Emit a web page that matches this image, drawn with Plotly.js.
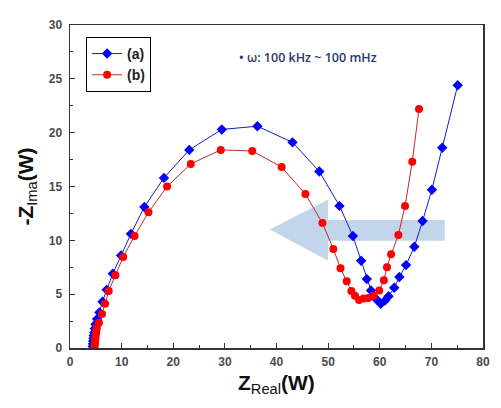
<!DOCTYPE html>
<html>
<head>
<meta charset="utf-8">
<script src="https://cdn.plot.ly/plotly-3.0.1.min.js"></script>
<style>html,body{margin:0;padding:0;background:#fff;}#chart{width:501px;height:408px;}</style>
</head>
<body>
<div id="chart"></div>
<script>
// Series (a): Z_real and -Z_imag (Ohm)
const zRealA = [4.4, 4.45, 4.5, 4.55, 4.6, 4.7, 4.8, 4.95, 5.25, 5.7, 6.3, 7.1, 8.3, 9.9, 11.8, 14.4, 18.2, 23.1, 29.4, 36.3, 43.1, 48.3, 52.2, 54.8, 56.4, 57.5, 58.3, 59.4, 60.2, 61.0, 61.7, 62.8, 63.8, 65.1, 66.7, 68.3, 70.1, 72.1, 75.1];
const zImagA = [0.15, 0.4, 0.65, 0.9, 1.15, 1.45, 1.8, 2.2, 2.7, 3.3, 4.3, 5.4, 6.9, 8.6, 10.6, 13.1, 15.8, 18.4, 20.3, 20.6, 19.1, 16.4, 13.2, 10.4, 8.1, 6.4, 5.35, 4.5, 4.1, 4.4, 4.8, 5.6, 6.6, 7.7, 9.4, 11.8, 14.7, 18.6, 24.4];
// Series (b)
const zRealB = [4.75, 4.8, 4.85, 4.9, 4.95, 5.0, 5.1, 5.2, 5.6, 6.2, 6.8, 7.5, 8.8, 10.3, 12.5, 15.2, 18.8, 23.4, 29.2, 35.3, 41.0, 45.6, 48.9, 51.0, 52.4, 53.6, 54.5, 55.2, 56.0, 56.9, 57.8, 58.8, 59.9, 60.8, 61.4, 62.2, 63.6, 64.9, 66.3, 67.6];
const zImagB = [0.1, 0.3, 0.5, 0.75, 1.0, 1.25, 1.5, 1.85, 2.35, 3.15, 4.1, 5.3, 6.75, 8.45, 10.4, 12.6, 15.0, 17.1, 18.4, 18.3, 16.8, 14.3, 11.6, 9.2, 7.4, 6.2, 5.3, 4.85, 4.45, 4.6, 4.65, 4.85, 5.35, 6.3, 7.5, 8.7, 10.5, 13.2, 17.3, 22.2];
const seriesNames = ['(a)', '(b)'];
const xTicks = [0, 10, 20, 30, 40, 50, 60, 70, 80];
const yTicks = [0, 5, 10, 15, 20, 25, 30];

const traces = [
  {x: zRealA, y: zImagA, name: seriesNames[0], type: 'scatter', mode: 'lines+markers',
   line: {color: '#1a1acc', width: 1}, marker: {symbol: 'diamond', size: 8, color: '#0000ff'}},
  {x: zRealB, y: zImagB, name: seriesNames[1], type: 'scatter', mode: 'lines+markers',
   line: {color: '#c0282c', width: 1}, marker: {symbol: 'circle', size: 8, color: '#ff0000'}}
];

const tickFont = {family: 'Liberation Sans, Arial, sans-serif', size: 12, color: '#4a4a4a', weight: 'bold'};
const axisCommon = {
  showgrid: false, zeroline: false, showline: true, linecolor: '#333', linewidth: 1.5, mirror: true,
  ticks: 'inside', ticklen: 5, tickwidth: 1.2, tickcolor: '#333', tickfont: tickFont
};

const layout = {
  width: 501, height: 408,
  margin: {l: 70, r: 18, t: 25, b: 60},
  paper_bgcolor: '#fff', plot_bgcolor: '#fff',
  showlegend: true,
  legend: {x: 0.039, y: 0.963, xanchor: 'left', yanchor: 'top', bordercolor: '#000', borderwidth: 1,
           bgcolor: '#fff', font: {family: 'Liberation Sans, Arial, sans-serif', size: 14, color: '#222', weight: 'bold'}},
  xaxis: Object.assign({}, axisCommon, {range: [0, 80], tickvals: xTicks, ticklabelstandoff: 2,
           minor: {ticks: 'inside', ticklen: 3, tickwidth: 1, tickcolor: '#333', dtick: 5}}),
  yaxis: Object.assign({}, axisCommon, {range: [0, 30], tickvals: yTicks, ticklabelstandoff: 4,
           minor: {ticks: 'inside', ticklen: 3, tickwidth: 1, tickcolor: '#333', dtick: 2.5}}),
  shapes: [{
    type: 'path', xref: 'x', yref: 'y', layer: 'below',
    path: 'M 72.6,11.9 L 50,11.9 L 50,13.8 L 38.7,11.0 L 50,8.1 L 50,9.95 L 72.6,9.95 Z',
    fillcolor: '#c3d5ea', line: {width: 0}
  }],
  annotations: [
    {xref: 'paper', yref: 'paper', x: 0.405, y: 0.9, xanchor: 'left', yanchor: 'middle', showarrow: false,
     text: '• ω: 100 kHz ~ 100 mHz', font: {family: 'Open Sans, sans-serif', size: 12.5, color: '#1f3a6b', weight: 600}},
    {xref: 'paper', yref: 'paper', x: 0.5, y: -0.065, xanchor: 'center', yanchor: 'top', showarrow: false,
     text: '<b>Z</b><sub>Real</sub><b>(W)</b>', font: {family: 'Liberation Sans, Arial, sans-serif', size: 21, color: '#111'}},
    {xref: 'paper', yref: 'paper', x: -0.07, y: 0.5, xanchor: 'right', yanchor: 'middle', showarrow: false, textangle: -90,
     text: '<b>-Z</b><sub>Ima</sub><b>(W)</b>', font: {family: 'Liberation Sans, Arial, sans-serif', size: 21, color: '#111'}}
  ]
};

Plotly.newPlot('chart', traces, layout, {displayModeBar: false, staticPlot: true});
</script>
</body>
</html>
